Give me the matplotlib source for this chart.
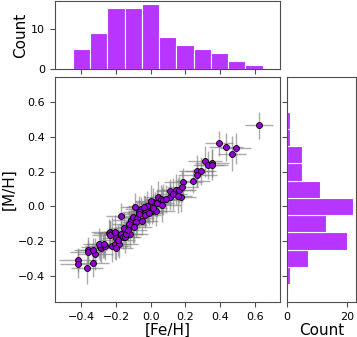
import numpy as np
import matplotlib; matplotlib.use('Agg'); import matplotlib.pyplot as plt

# [Fe/H] and [M/H] per star
fe = [-0.421, -0.421, -0.367, -0.361, -0.364,
      -0.331, -0.320, -0.331, -0.295, -0.289, -0.278, -0.262, -0.300, -0.270,
      -0.226, -0.241, -0.233, -0.222, -0.237, -0.209, -0.172, -0.201, -0.209, -0.182,
      -0.203, -0.153, -0.170, -0.190, -0.160,
      -0.146, -0.117, -0.103, -0.113, -0.102, -0.079, -0.090, -0.059, -0.065, -0.140,
      -0.125, -0.085, -0.070, -0.130, -0.095,
      -0.050, -0.032, -0.015, 0.006, 0.031, -0.036, -0.031, 0.041, 0.012, 0.027,
      -0.020, 0.015, -0.040, 0.000, 0.035, -0.010,
      0.058, 0.069, 0.111, 0.111, 0.144, 0.065, 0.090, 0.130,
      0.163, 0.173, 0.159, 0.184, 0.182, 0.242,
      0.265, 0.288, 0.269, 0.312, 0.331,
      0.353, 0.354, 0.395, 0.433,
      0.490, 0.468,
      0.622]
mh = [-0.309, -0.335, -0.358, -0.255, -0.262,
      -0.327, -0.275, -0.254, -0.233, -0.240, -0.231, -0.229, -0.215, -0.220,
      -0.229, -0.156, -0.148, -0.153, -0.163, -0.148, -0.158, -0.182, -0.215, -0.217,
      -0.240, -0.123, -0.059, -0.195, -0.175,
      -0.179, -0.158, -0.111, -0.081, -0.063, -0.067, -0.006, -0.017, -0.031, -0.160,
      -0.100, -0.090, -0.045, -0.135, -0.120,
      -0.087, -0.029, -0.029, -0.025, -0.025, -0.038, -0.048, 0.056, 0.023, 0.012,
      0.000, -0.010, -0.005, 0.030, 0.020, -0.040,
      0.044, 0.037, 0.089, 0.056, 0.096, 0.010, 0.040, 0.070,
      0.096, 0.054, 0.060, 0.138, 0.112, 0.144,
      0.204, 0.204, 0.179, 0.258, 0.237,
      0.250, 0.240, 0.362, 0.340,
      0.335, 0.304,
      0.466]
fe_err = [0.11, 0.10, 0.09, 0.08, 0.10,
          0.09, 0.10, 0.08, 0.11, 0.09, 0.10, 0.08, 0.09, 0.10,
          0.10, 0.09, 0.11, 0.08, 0.10, 0.09, 0.10, 0.08, 0.09, 0.11,
          0.10, 0.08, 0.09, 0.10, 0.09,
          0.09, 0.10, 0.08, 0.11, 0.09, 0.10, 0.08, 0.09, 0.10, 0.09,
          0.10, 0.08, 0.09, 0.11, 0.10,
          0.09, 0.10, 0.08, 0.09, 0.11, 0.10, 0.09, 0.08, 0.10, 0.09,
          0.11, 0.08, 0.10, 0.09, 0.10, 0.08,
          0.09, 0.10, 0.08, 0.09, 0.10, 0.11, 0.09, 0.08,
          0.10, 0.09, 0.08, 0.11, 0.09, 0.10,
          0.10, 0.09, 0.11, 0.10, 0.09,
          0.10, 0.09, 0.08, 0.10,
          0.09, 0.08,
          0.08]
mh_err = [0.07, 0.08, 0.09, 0.08, 0.07,
          0.08, 0.09, 0.07, 0.08, 0.09, 0.07, 0.08, 0.09, 0.08,
          0.09, 0.08, 0.07, 0.09, 0.08, 0.10, 0.08, 0.07, 0.09, 0.08,
          0.07, 0.09, 0.08, 0.09, 0.07,
          0.09, 0.08, 0.10, 0.07, 0.08, 0.09, 0.08, 0.07, 0.09, 0.08,
          0.07, 0.09, 0.08, 0.07, 0.09,
          0.08, 0.09, 0.07, 0.08, 0.09, 0.07, 0.08, 0.09, 0.08, 0.07,
          0.09, 0.08, 0.07, 0.09, 0.08, 0.07,
          0.08, 0.09, 0.07, 0.08, 0.09, 0.10, 0.08, 0.09,
          0.08, 0.09, 0.10, 0.08, 0.09, 0.07,
          0.09, 0.08, 0.07, 0.09, 0.08,
          0.08, 0.09, 0.07, 0.08,
          0.09, 0.10,
          0.08]

bins = np.linspace(-0.45, 0.645, 12)
hist_color = '#B735FF'

plt.rcParams.update({'axes.edgecolor': '0.3', 'xtick.color': '0.3', 'ytick.color': '0.3',
                     'xtick.labelcolor': 'black', 'ytick.labelcolor': 'black',
                     'xtick.labelsize': 8, 'ytick.labelsize': 8, 'axes.labelsize': 11})

fig = plt.figure(figsize=(3.57, 3.37), dpi=100)
ax = fig.add_axes([55/357, 35/337, 225/357, 225/337])
ax_top = fig.add_axes([55/357, 268/337, 225/357, 68/337], sharex=ax)
ax_right = fig.add_axes([287/357, 35/337, 69/357, 225/337], sharey=ax)

ax.errorbar(fe, mh, xerr=fe_err, yerr=mh_err, fmt='none', ecolor='gray', alpha=0.65, lw=1.0, zorder=1)
ax.plot(fe, mh, 'o', ms=4.3, mfc='darkviolet', mec='black', mew=0.6, zorder=2)
ax.set_xlim(-0.552, 0.745); ax.set_ylim(-0.552, 0.745)
ax.set_xticks([-0.4, -0.2, 0.0, 0.2, 0.4, 0.6]); ax.set_yticks([-0.4, -0.2, 0.0, 0.2, 0.4, 0.6])
ax.set_xlabel('[Fe/H]', labelpad=1); ax.set_ylabel('[M/H]', labelpad=1)

ax_top.hist(fe, bins=bins, color=hist_color, edgecolor='white', lw=0.8)
ax_top.set_yticks([0, 10]); ax_top.set_ylabel('Count', labelpad=2)
ax_top.tick_params(labelbottom=False)

ax_right.hist(mh, bins=bins, orientation='horizontal', color=hist_color, edgecolor='white', lw=0.8)
ax_right.set_xticks([0, 20]); ax_right.set_xlabel('Count', labelpad=1)
ax_right.tick_params(labelleft=False)

fig.savefig('out.png', dpi=100)
